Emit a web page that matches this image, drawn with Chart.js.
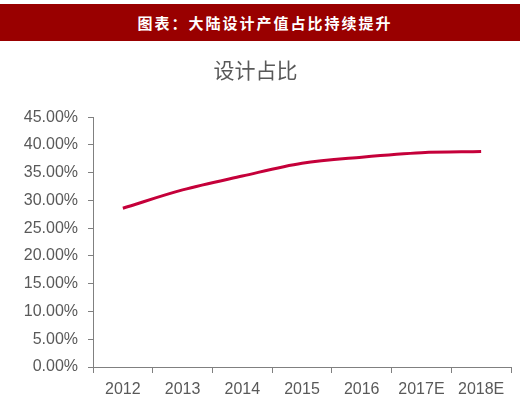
<!DOCTYPE html>
<html>
<head>
<meta charset="utf-8">
<script src="https://cdn.jsdelivr.net/npm/chart.js@4/dist/chart.umd.min.js"></script>
<style>
  html, body { margin: 0; padding: 0; background: #fff; }
  #wrap { position: relative; width: 520px; height: 398px; overflow: hidden; }
  #banner {
    position: absolute; left: 0; top: 4px; width: 520px; height: 37px;
    background: #990000; color: #fff;
    font-family: "Noto Sans CJK SC", sans-serif; font-weight: bold;
    font-size: 15px; letter-spacing: 2px; line-height: 37px;
    text-align: center; padding-left: 10px; box-sizing: border-box;
  }
  canvas { position: absolute; left: 0; top: 0; }
</style>
</head>
<body>
<div id="wrap">
  <canvas id="c" width="520" height="398"></canvas>
  <div id="banner">图表：大陆设计产值占比持续提升</div>
</div>
<script>
const categories = ['2012', '2013', '2014', '2015', '2016', '2017E', '2018E'];
const designShare = [28.6, 31.9, 34.4, 36.7, 37.8, 38.6, 38.8];
const seriesName = '设计占比';
const chartTitle = '设计占比';
const yTickValues = [0, 5, 10, 15, 20, 25, 30, 35, 40, 45];

const axisColor = '#808080';
const labelColor = '#595959';

new Chart(document.getElementById('c'), {
  type: 'line',
  data: {
    labels: categories,
    datasets: [{
      label: seriesName,
      data: designShare,
      borderColor: '#C5003A',
      backgroundColor: '#C5003A',
      borderWidth: 3,
      pointRadius: 0,
      tension: 0.4,
      cubicInterpolationMode: 'monotone',
      fill: false
    }]
  },
  options: {
    responsive: false,
    animation: false,
    layout: { padding: { left: 0, right: 9, top: 0, bottom: 0 } },
    plugins: {
      legend: { display: false },
      tooltip: { enabled: false },
      title: {
        display: true,
        text: chartTitle,
        color: labelColor,
        font: { family: '"Noto Sans CJK SC", sans-serif', size: 21, weight: 'normal', lineHeight: 1.2 },
        padding: { top: 57, bottom: 35 }
      }
    },
    scales: {
      x: {
        type: 'category',
        offset: true,
        grid: { offset: true, drawOnChartArea: false, drawTicks: true, tickLength: 6, color: axisColor },
        border: { display: true, color: axisColor, width: 1 },
        ticks: {
          color: labelColor, padding: 7, maxRotation: 0, autoSkip: false,
          font: { family: '"Liberation Sans", Arial, sans-serif', size: 16 }
        },
        afterFit: (s) => { s.height = 31; }
      },
      y: {
        min: 0, max: 45,
        afterBuildTicks: (s) => { s.ticks = yTickValues.map(v => ({ value: v })); },
        grid: { drawOnChartArea: false, drawTicks: true, tickLength: 5, color: axisColor },
        border: { display: true, color: axisColor, width: 1 },
        ticks: {
          color: labelColor, padding: 10,
          font: { family: '"Liberation Sans", Arial, sans-serif', size: 16 },
          callback: (v) => Number(v).toFixed(2) + '%'
        },
        afterFit: (s) => { s.width = 93; }
      }
    }
  }
});
</script>
</body>
</html>
